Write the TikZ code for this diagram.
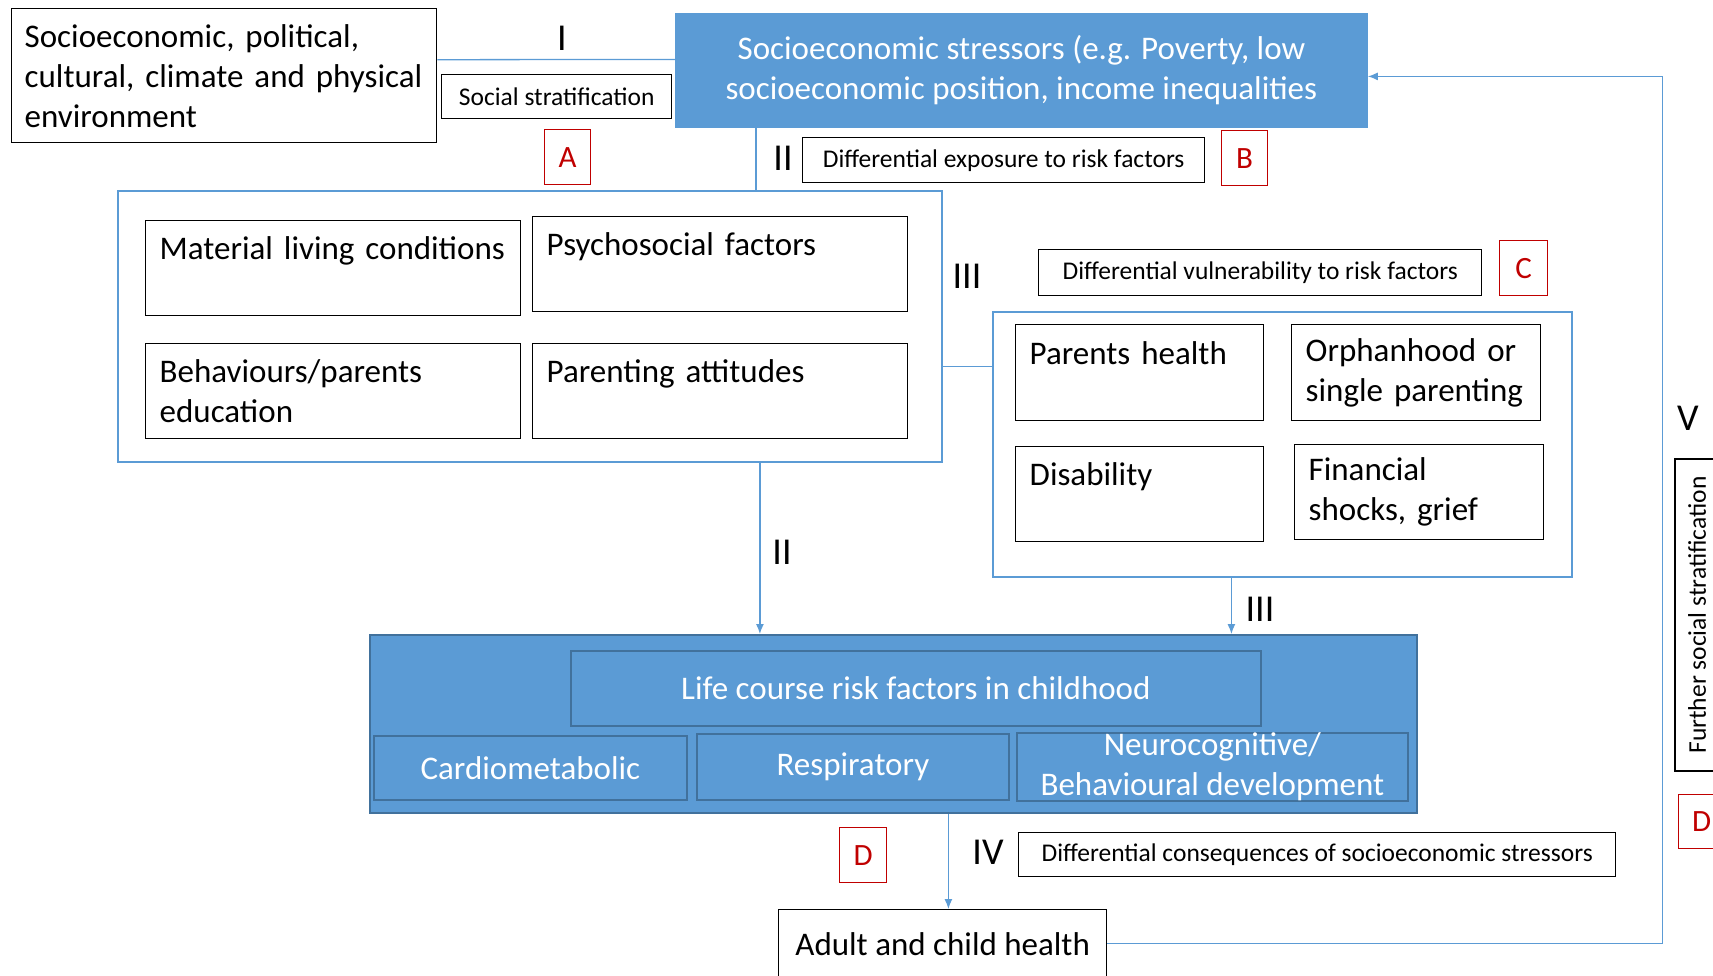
\documentclass[tikz,border=0pt]{standalone}
\usepackage{fontspec}
\setmainfont{Carlito}
\usetikzlibrary{arrows.meta}
\definecolor{boxblue}{HTML}{5B9BD5}
\definecolor{edgeblue}{HTML}{41719C}
\definecolor{markred}{HTML}{C00000}

\tikzset{
  big/.style={font=\fontsize{33}{40}\selectfont},
  small/.style={font=\fontsize{25.5}{31}\selectfont},
  numeral/.style={font=\fontsize{38}{40}\selectfont},
  factor/.style={draw, line width=1.4pt, anchor=north west, align=left, inner xsep=14pt, inner ysep=0pt, big},
  tagbox/.style={draw, line width=1.4pt, anchor=north west, align=center, inner sep=0pt, small},
  letter/.style={draw=markred, text=markred, line width=1.2pt, anchor=north west, inner sep=0pt, font=\fontsize{31}{31}\selectfont},
  group/.style={draw=boxblue, line width=1.8pt, anchor=north west, inner sep=0pt},
  risk/.style={draw=edgeblue, line width=1.8pt, fill=boxblue, text=white, anchor=north west, align=center, inner sep=0pt, big},
  link/.style={draw=boxblue, line width=1.3pt},
  flow/.style={link, -{Latex[length=10pt,width=8pt]}}
}

\begin{document}
\begin{tikzpicture}[x=1pt, y=-1pt]
\useasboundingbox (0,0) rectangle (1713,975);

% top row
\node[factor, text width=399pt, minimum height=134pt, inner xsep=13pt] (env) at (11,8) {Socioeconomic, political,\\cultural, climate and physical\\environment};
\node[tagbox, minimum width=230pt, minimum height=44pt] (socstrat) at (441,74) {Social stratification};
\node[letter, minimum width=46pt, minimum height=55pt] (markA) at (544,129) {A};
\node[risk, draw=boxblue, minimum width=691pt, minimum height=113pt] (stress) at (675,13) {Socioeconomic stressors (e.g. Poverty, low\\socioeconomic position, income inequalities};
\node[tagbox, minimum width=402pt, minimum height=45pt] (exposure) at (802,137) {Differential exposure to risk factors};
\node[letter, minimum width=46pt, minimum height=55pt] (markB) at (1221,130) {B};

% exposure group
\node[group, minimum width=824pt, minimum height=271pt] (grp1) at (117,190) {};
\node[factor, text width=347pt, minimum height=95pt] (material) at (145,220) {Material living conditions\\~};
\node[factor, text width=347pt, minimum height=95pt] (psycho) at (532,216) {Psychosocial factors\\~};
\node[factor, text width=347pt, minimum height=95pt] (behav) at (145,343) {Behaviours/parents\\education};
\node[factor, text width=347pt, minimum height=95pt] (parenting) at (532,343) {Parenting attitudes\\~};

% vulnerability group
\node[tagbox, minimum width=443pt, minimum height=46pt] (vuln) at (1038,249) {Differential vulnerability to risk factors};
\node[letter, minimum width=48pt, minimum height=55pt] (markC) at (1499,240) {C};
\node[group, minimum width=579pt, minimum height=265pt] (grp2) at (992,311) {};
\node[factor, text width=220pt, minimum height=96pt] (phealth) at (1015,324) {Parents health\\~};
\node[factor, text width=221pt, minimum height=96pt] (orphan) at (1291,324) {Orphanhood or\\single parenting};
\node[factor, text width=220pt, minimum height=95pt] (disab) at (1015,446) {Disability\\~};
\node[factor, text width=221pt, minimum height=95pt] (finance) at (1294,444) {Financial\\shocks, grief};

% life course
\node[risk, minimum width=1047pt, minimum height=178pt] (life) at (369,634) {};
\node[risk, minimum width=690pt, minimum height=75pt] (lifetitle) at (570,650) {Life course risk factors in childhood};
\node[risk, minimum width=313pt, minimum height=64pt] (cardio) at (373,735) {Cardiometabolic};
\node[risk, minimum width=312pt, minimum height=66pt] (resp) at (696,733) {Respiratory};
\node[risk, minimum width=391pt, minimum height=67pt] (neuro) at (1016,732) {Neurocognitive/\\Behavioural development};

% outcome
\node[letter, minimum width=47pt, minimum height=55pt] (markD) at (839,827) {D};
\node[tagbox, minimum width=597pt, minimum height=44pt] (conseq) at (1018,832) {Differential consequences of socioeconomic stressors};
\node[factor, align=center, minimum width=328pt, minimum height=68pt] (adult) at (778,909) {Adult and child health};
\node[tagbox, anchor=center, rotate=90, minimum width=312pt, minimum height=44pt] (further) at (1697,615) {Further social stratification};
\node[letter, minimum width=46pt, minimum height=54pt] (markD2) at (1678,794) {D};

% numerals
\node[numeral] (numI) at (562,38) {I};
\node[numeral] (numIIa) at (783,158) {II};
\node[numeral] (numIIIa) at (967,276) {III};
\node[numeral] (numIIb) at (782,552) {II};
\node[numeral] (numIIIb) at (1260,609) {III};
\node[numeral] (numIV) at (988,852) {IV};
\node[numeral] (numV) at (1688,418) {V};

% connectors
\draw[link] ([yshift=16pt]env.east) -- ([yshift=11pt]stress.west);
\draw[link] ([xshift=81pt]stress.south west) -- ([xshift=81pt]stress.south west |- grp1.north);
\draw[link] ([yshift=-40pt]grp1.east) -- ([yshift=-40pt]grp1.east -| grp2.west);
\draw[flow] ([xshift=230pt]grp1.south) -- ([xshift=230pt]grp1.south |- life.north);
\draw[flow] ([xshift=-51pt]grp2.south) -- ([xshift=-51pt]grp2.south |- life.north);
\draw[flow] ([xshift=55pt]life.south) -- ([xshift=55pt]life.south |- adult.north);
\draw[flow] (adult.east) -- ++(555,0) |- ([yshift=-6pt]stress.east);
\end{tikzpicture}
\end{document}
